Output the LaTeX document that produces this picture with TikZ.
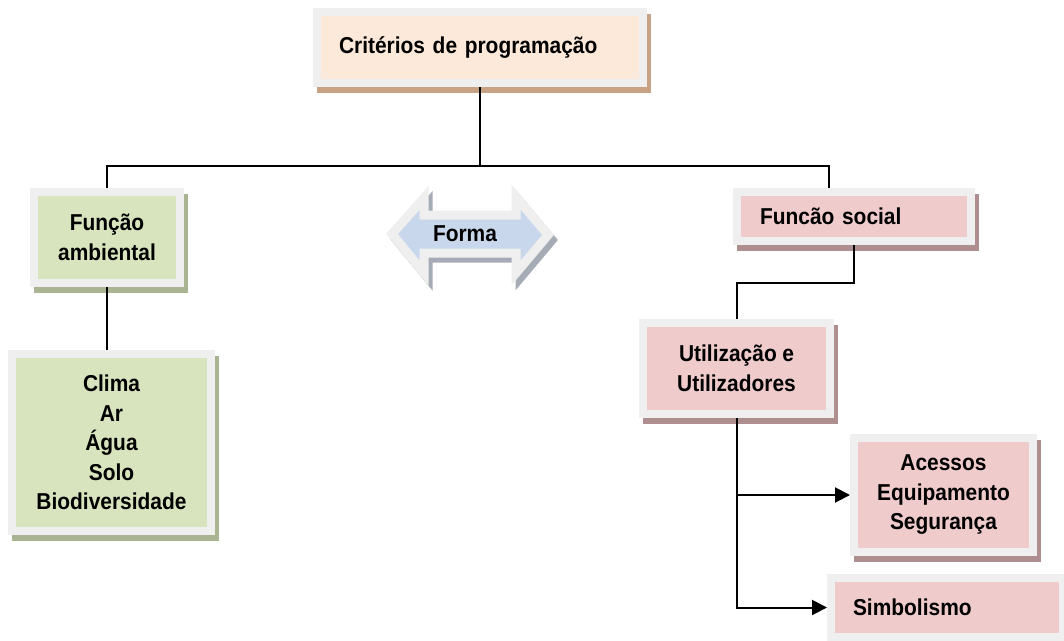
\documentclass[tikz,border=0pt]{standalone}
\usepackage{fontspec}
\setmainfont{Liberation Sans}[FakeStretch=0.91]
\usetikzlibrary{arrows.meta,backgrounds}
\definecolor{frame}{HTML}{EFEFEF}
\definecolor{cpeach}{HTML}{FDE9D9}
\definecolor{cgreen}{HTML}{D7E4BD}
\definecolor{cpink}{HTML}{EFCBCB}
\definecolor{cblue}{HTML}{C8D7EC}
\definecolor{shpeach}{HTML}{C9A283}
\definecolor{shgreen}{HTML}{A9B493}
\definecolor{shpink}{HTML}{AE8E8E}
\definecolor{shblue}{HTML}{A6ACB6}
\newcommand\boxfont{\fontsize{23}{29.5}\selectfont\bfseries\spaceskip=5.5pt\relax}
\begin{document}
\begin{tikzpicture}[x=1pt,y=-1pt,
  box/.style={draw=frame, line width=8pt, font=\boxfont, align=center, inner sep=0pt},
  conn/.style={line width=2pt, draw=black},
  arr/.style={conn, -{Triangle[length=15pt,width=15pt]}},
  fshape/.style={line width=9pt, line join=miter}]
\useasboundingbox (0,0) rectangle (1064,640);

% boxes
\node[box, fill=cpeach, minimum width=326pt, minimum height=71pt, text width=282pt, align=left] (top) at (480,47.5) {Critérios de programação};
\node[box, fill=cgreen, minimum width=146pt, minimum height=91pt] (amb) at (107,237.5) {Função\\ambiental};
\node[box, fill=cpink, minimum width=234pt, minimum height=49pt, text width=188pt, align=left] (soc) at (854,216.5) {Funcão social};
\node[box, fill=cgreen, minimum width=199pt, minimum height=177pt] (clima) at (111.5,442.5) {Clima\\Ar\\Água\\Solo\\Biodiversidade};
\node[box, fill=cpink, minimum width=187pt, minimum height=91pt] (util) at (736.5,368.5) {Utilização e\\Utilizadores};
\node[box, fill=cpink, minimum width=179pt, minimum height=114pt] (acc) at (943.5,495) {Acessos\\Equipamento\\Segurança};
\node[box, fill=cpink, minimum width=232pt, minimum height=59pt, text width=188pt, align=left] (simb) at (947,607.5) {Simbolismo};

% shadows
\begin{scope}[on background layer]
  \fill[white] (0,0) rectangle (1064,640);
  \foreach \n/\c in {top/shpeach, amb/shgreen, soc/shpink, clima/shgreen, util/shpink, acc/shpink, simb/shpink}
    \fill[\c] ([shift={(4,6)}]\n.north west) rectangle ([shift={(4,6)}]\n.south east);
\end{scope}

% Forma double arrow
\filldraw[fshape, draw=shblue, fill=shblue, shift={(4,5)}]
  (392,234) -- (424,198) -- (424,215) -- (516,215) -- (516,197) -- (548,235)
  -- (516,273) -- (516,253) -- (424,253) -- (424,273) -- cycle;
\filldraw[fshape, draw=frame, fill=cblue]
  (392,234) -- (424,198) -- (424,215) -- (516,215) -- (516,197) -- (548,235)
  -- (516,273) -- (516,253) -- (424,253) -- (424,273) -- cycle;
\node[font=\boxfont] (forma) at (465,234) {Forma};

% connectors
\coordinate (hy) at (0,166);
\coordinate (socin) at (829,166);
\draw[conn] (top.south) -- (top.south |- hy);
\draw[conn] (amb.north) -- (amb.north |- hy) -- (socin) -- (socin |- soc.north);
\draw[conn] (amb.south) -- (amb.south |- clima.north);
\draw[conn] (soc.south) -- ++(0,38) -| (util.north);
\draw[arr] (util.south) |- (simb.west);
\draw[arr] (util.south |- acc.west) -- (acc.west);
\end{tikzpicture}
\end{document}
